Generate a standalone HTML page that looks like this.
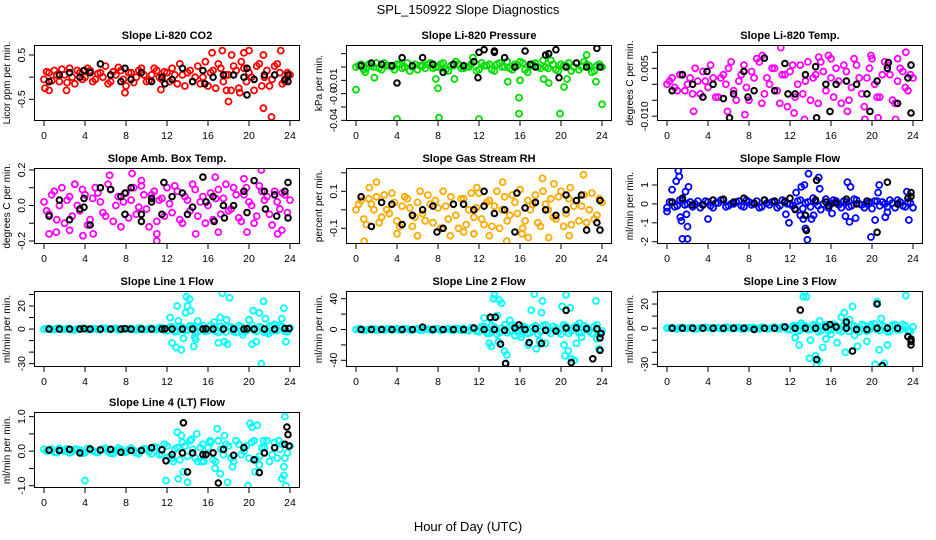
<!DOCTYPE html>
<html><head><meta charset="utf-8">
<style>
html,body{margin:0;padding:0;background:#fff;}
svg{display:block;font-family:"Liberation Sans",sans-serif;}
</style></head>
<body>
<svg id="chart" width="936" height="540" viewBox="0 0 936 540" xmlns="http://www.w3.org/2000/svg">
<text x="468" y="14" text-anchor="middle" font-size="13">SPL_150922  Slope Diagnostics</text>
<text x="468" y="531" text-anchor="middle" font-size="13">Hour of Day (UTC)</text>
</svg>
<script>
const hourTicks = [0,4,8,12,16,20,24];
// Panel 1 CO2
const co2A = [-0.05,0.1,0.15,-0.1,0.05,0.2,-0.15,0.1,0.0,0.15,-0.05,0.1,0.25,-0.1,0.05,0.15,-0.2,0.1,0.0,0.2,-0.1,0.05,0.15,-0.05,0.1,0.2,-0.15,0.05,0.1,-0.1,0.25,0.0,-0.2,0.15,0.3,-0.1,0.05,0.25,-0.25,0.2,0.1,-0.3,0.3,0.0,-0.2,0.25,0.1,-0.1,0.05];
const co2B = [0.12,-0.08,0.05,0.18,-0.12,0.0,0.15,-0.05,0.2,-0.1,0.08,0.0,-0.15,0.12,0.22,-0.05,0.1,-0.12,0.15,0.05,-0.08,0.2,0.0,0.12,-0.1,0.05,0.3,-0.2,0.15,0.0,-0.15,0.35,0.1,-0.25,0.2,0.05,-0.3,0.15,0.35,-0.1,0.0,0.25,-0.2,0.15,-0.05,0.3,-0.15,0.1];
const co2Out = [[17.4,0.6],[18.3,0.5],[18.0,-0.55],[19.5,0.55],[20,0.6],[21.4,-0.7],[22.2,-0.9],[23.1,0.6],[0.1,-0.25],[0.5,-0.3],[2.2,-0.3],[7.9,-0.35],[11.4,-0.28],[16.4,0.55],[21.4,0.5],[17.8,-0.3],[19.1,-0.35]];
const co2K = [-0.1,0.05,0.1,0.0,0.1,0.3,0.05,-0.1,-0.05,0.1,-0.1,0.0,-0.05,0.2,-0.1,0.15,0.0,0.05,0.05,0.0,-0.05,0.05,0.05,-0.05];
const co2KX = [[3.9,0.15],[7.9,0.2],[11.8,-0.15],[15.7,-0.15],[19.8,-0.4],[19.8,0.2],[23.8,0.05],[23.8,-0.1]];
// Panel 2 pressure
const prA = [0.0,0.002,-0.001,0.001,0.003,-0.002,0.001,0.0,0.002,-0.001,0.003,0.0,-0.002,0.001,0.002,-0.001,0.0,0.003,-0.003,0.001,0.002,-0.001,0.0,0.004,-0.002,0.001,0.002,-0.003,0.003,0.0,-0.001,0.002,0.004,-0.002,0.001,0.003,-0.001,0.0,0.005,-0.002,0.002,0.001,-0.003,0.003,0.0,0.002,-0.004,0.001,0.0];
const prB = [0.001,-0.002,0.002,0.0,-0.001,0.003,0.001,-0.002,0.002,0.0,-0.003,0.002,0.001,-0.001,0.003,0.0,0.002,-0.002,0.001,0.004,-0.001,0.0,0.002,-0.003,0.003,0.001,-0.002,0.002,0.0,0.004,-0.002,0.001,0.003,-0.004,0.002,0.0,0.005,-0.001,0.002,-0.003,0.001,0.003,0.0,-0.002,0.004,0.001,-0.003,0.002];
const prOut = [[0,-0.017],[4,-0.039],[8.1,-0.038],[12,-0.039],[15.9,-0.035],[19.9,-0.035],[24,-0.028],[15.9,-0.023],[8,-0.016],[20.3,-0.015],[0.9,-0.004],[1.8,-0.008],[7.8,-0.009],[9.6,-0.009],[14.8,-0.011],[16,-0.010],[18.3,-0.009],[18.8,-0.012],[20.6,-0.009],[22.5,0.009],[11.4,0.007],[23.4,-0.011]];
const prK = [0.001,0.003,0.002,0.001,0.007,0.001,0.007,0.002,-0.004,0.002,0.001,0.004,0.013,0.012,0.007,0.0,0.012,0.0,0.009,0.013,0.0,0.003,0.0,0.014];
const prKX = [[4,-0.012],[11.9,-0.008],[19.8,-0.008],[23.8,0.0],[17,0.002],[12,0.011],[13.5,0.011],[18.8,0.010]];
// Panel 3 Li-820 temp
const tA = [0.0,0.002,-0.002,0.003,0.0,-0.003,0.001,0.004,-0.001,0.002,-0.004,0.003,0.005,-0.002,0.001,0.006,-0.005,0.002,0.007,-0.003,0.0,0.005,-0.006,0.003,0.004,-0.004,0.006,0.001,-0.005,0.003,0.007,-0.002,0.002,0.005,-0.006,0.004,-0.001,0.006,-0.003,0.002,0.008,-0.004,0.003,0.006,-0.005,0.001,0.004,-0.002,0.002];
const tB = [0.001,-0.001,0.003,-0.002,0.002,0.005,-0.003,0.001,0.006,-0.004,0.002,0.0,0.007,-0.005,0.003,-0.001,0.004,0.008,-0.006,0.002,0.005,-0.002,0.003,-0.007,0.006,0.0,-0.003,0.007,0.002,-0.006,0.004,0.009,-0.004,0.001,0.006,-0.005,0.008,0.002,-0.007,0.005,0.0,-0.004,0.007,0.003,-0.006,0.005,-0.001,0.003];
const tOut = [[2.6,-0.0085],[5.9,-0.0085],[7.6,-0.0095],[11.1,0.0115],[12.4,-0.009],[13.4,-0.011],[17.6,-0.0085],[19.3,-0.011],[20.6,-0.0105],[22.3,-0.011],[23.3,0.01],[22.5,0.008],[19.9,0.009],[14.8,0.0085],[9.3,0.009],[16,0.008]];
const tK = [-0.002,0.003,0.0,-0.004,0.0,-0.0045,-0.003,0.004,-0.002,0.0082,-0.002,0.0065,-0.003,0.003,0.0055,0.0,0.0,0.001,0.0,-0.003,0.001,0.005,-0.006,0.002];
const tKX = [[6.1,-0.0105],[14.6,-0.0105],[15.9,-0.0085],[19.8,-0.0085],[11.8,-0.003],[23.8,-0.009],[23.8,0.006],[21.6,0.0068],[3.9,0.004],[7.9,-0.004]];
// Panel 4 amb box temp
const aA = [0.02,-0.05,0.08,0.0,-0.1,0.05,0.12,-0.03,0.06,-0.08,0.1,0.02,-0.06,0.09,0.0,-0.12,0.07,0.03,-0.05,0.11,-0.02,0.06,-0.09,0.04,0.1,-0.04,0.08,-0.1,0.03,0.12,-0.06,0.05,0.0,-0.08,0.09,0.04,-0.03,0.1,-0.07,0.06,0.02,-0.1,0.11,0.03,-0.05,0.08,-0.02,0.06,0.03];
const aB = [-0.03,0.06,-0.08,0.1,0.03,-0.06,0.0,0.09,-0.11,0.04,0.07,-0.04,0.12,-0.09,0.05,0.02,-0.07,0.1,-0.01,0.06,-0.12,0.08,0.03,-0.06,0.01,0.11,-0.08,0.05,-0.03,0.09,0.02,-0.1,0.07,0.04,-0.05,0.12,-0.02,0.06,-0.09,0.1,0.0,-0.06,0.08,0.05,-0.11,0.02,0.07,-0.04];
const aOut = [[0.5,-0.16],[1.2,-0.15],[2.5,-0.14],[3.8,-0.17],[4.8,-0.16],[6.4,0.17],[8.6,0.18],[11,-0.2],[11,-0.16],[14.8,-0.16],[16.7,0.16],[17,-0.15],[19.5,0.15],[21.2,0.2],[22.8,-0.16],[3,0.12],[9.5,0.14],[19.8,-0.15],[23.2,-0.14]];
const aK = [-0.06,0.03,-0.08,-0.02,-0.11,0.1,0.09,0.05,0.1,-0.05,0.02,-0.05,0.05,0.07,-0.01,0.16,0.05,0.0,0.0,0.08,0.14,0.08,0.06,0.08];
const aKX = [[3.9,-0.01],[3.9,0.04],[7.9,0.07],[7.9,-0.05],[9.5,-0.09],[10.5,0.04],[11.7,0.13],[14,-0.05],[15.8,0.02],[16.6,-0.09],[17.6,-0.07],[19.8,-0.04],[21.6,-0.02],[22.7,-0.06],[23.8,-0.07],[23.8,0.13]];
// Panel 5 RH
const rA = [0.0,0.05,-0.08,0.03,0.07,-0.04,0.0,0.09,-0.06,0.02,0.06,-0.09,0.04,-0.02,0.08,-0.07,0.01,0.1,-0.05,0.03,-0.1,0.06,0.0,-0.04,0.09,-0.08,0.05,0.02,-0.1,0.07,-0.03,0.04,0.11,-0.06,0.0,0.08,-0.09,0.03,0.06,-0.05,0.1,-0.02,-0.08,0.05,0.02,-0.07,0.09,-0.03,0.04];
const rB = [0.03,-0.05,0.06,0.0,-0.07,0.08,-0.02,0.04,-0.09,0.07,0.01,-0.04,0.1,-0.06,0.03,0.05,-0.1,0.02,0.07,-0.03,0.06,-0.08,0.09,0.01,-0.05,0.04,-0.09,0.1,0.0,-0.06,0.08,-0.02,-0.1,0.05,0.03,-0.07,0.1,0.0,-0.04,0.07,-0.09,0.06,0.02,-0.06,0.08,0.0,-0.05,0.06];
const rOut = [[0.8,-0.17],[2,0.15],[4,-0.13],[6,-0.14],[9.2,-0.14],[10.5,-0.12],[11.5,-0.13],[13,-0.14],[14.3,0.15],[14.7,-0.17],[16.2,-0.13],[16.8,-0.15],[17.9,0.24],[18.2,0.17],[18.8,-0.15],[20.8,-0.14],[22.2,0.19],[1.3,0.12],[11.8,0.12],[19.3,0.14],[20.9,0.12]];
const rK = [0.07,-0.09,0.04,0.03,-0.08,-0.03,0.0,0.02,-0.1,0.03,0.03,0.0,0.02,-0.02,0.0,-0.12,0.01,0.04,0.0,-0.03,0.0,0.05,-0.11,-0.07];
const rKX = [[12.5,0.1],[15.7,0.09],[20.5,0.08],[23.8,0.05],[23.8,-0.11],[22,0.08],[7.9,-0.12]];
// Panel 6 sample flow
const sA = [-0.2,0.1,-0.1,0.2,0.0,-0.15,0.15,-0.05,0.1,-0.2,0.05,0.2,-0.1,0.0,0.15,-0.15,0.1,0.0,-0.2,0.2,-0.05,0.1,-0.1,0.15,0.0,-0.25,0.2,0.05,-0.15,0.1,-0.3,0.25,0.0,0.15,-0.2,0.1,-0.1,0.2,-0.05,0.0,-0.25,0.15,0.1,-0.15,0.05,0.2,-0.1,0.1,-0.2];
const sB = [0.1,-0.15,0.2,-0.05,0.1,0.0,-0.2,0.15,-0.1,0.05,0.2,-0.15,0.0,0.1,-0.1,0.2,-0.05,0.15,-0.15,0.05,0.1,-0.2,0.2,0.0,-0.1,0.15,-0.25,0.1,0.3,-0.1,0.0,-0.2,0.2,-0.05,0.15,-0.15,0.25,0.0,-0.2,0.1,0.15,-0.1,0.0,0.2,-0.2,0.1,-0.15,0.05];
const sOut = [[0,-0.4],[0.5,0.75],[0.9,1.2],[1.1,1.75],[1.2,1.45],[1.3,-0.7],[1.4,-0.9],[1.5,-1.85],[1.8,0.65],[1.9,-0.55],[2.0,-1.2],[2.0,-1.85],[2.1,0.9],[4.0,-0.8],[11.9,-1.0],[11.6,-0.55],[12.6,0.6],[13.1,0.9],[13.3,-0.8],[13.4,1.0],[13.5,-1.3],[13.7,-1.9],[13.8,1.6],[14.1,-0.8],[14.8,1.4],[14.9,0.8],[16.1,-0.5],[17.4,-0.65],[17.6,1.15],[17.8,-0.95],[17.9,0.9],[18.4,-0.75],[19.9,-1.75],[20.3,-0.85],[20.6,0.6],[20.7,1.0],[21.3,-0.7],[21.5,-0.45],[23.6,-0.85],[23.4,0.65],[13,-0.6],[14.3,-0.6]];
const sK = [0.1,0.3,-0.05,-0.05,0.2,0.25,0.1,0.3,0.05,0.2,0.15,0.1,-0.3,-0.6,0.2,0.1,0.05,0.25,0.0,0.15,-1.5,1.15,0.0,0.3];
const sKX = [[13.6,-1.4],[14.6,1.25],[23.8,0.6],[23.8,0.4],[12,0.3],[15.8,-0.1]];
// Panel 7 line 1
const l1A = [0,0.5,-0.5,0.8,-0.3,0.4,-0.8,0.2,0.6,-0.4,0.3,-0.6,0.5,-0.2,0.7,-0.5,0.1,0.4,-0.7,0.6,-0.3,0.8,-0.5,1.0,-1.5,2,-2,1.5,-1,2.5,-2.5,3,-1.5,2,-3,1,2.5,-2,3,-2.5,1.5,-1,2,-3,2.5,-1.5,3,-2,1];
const l1B = [0.3,-0.4,0.6,-0.2,0.5,-0.6,0.2,0.7,-0.3,0.4,-0.5,0.8,-0.1,0.3,-0.7,0.5,0.2,-0.4,0.9,-0.6,0.4,-0.2,1.2,-1,1.8,-2.5,2.2,-1.2,2.8,-3,1.5,-2,3.2,-1.8,2.5,-2.5,1.8,-3,2.2,-1.5,3.5,-2,1.2,-2.8,3,-1.2,2,-2.5];
const l1Out = [[12.3,10],[12.5,-12],[12.9,-16],[13,20],[13.1,7],[13.4,-18],[13.6,-8],[13.8,14],[13.9,28],[14,20],[14.2,26],[14.3,16],[14.6,-15],[14.7,-7],[14.8,-9],[15,7],[17,-12],[17.2,10],[17.4,31],[17.6,-11],[17.8,8],[17.9,-13],[18.1,27],[19.4,-5],[20,8],[20.3,-13],[20.4,16],[20.7,-11],[21,14],[21.2,-30],[21.4,24],[21.6,9],[21.9,-4],[22.5,4],[23.2,9],[23.4,18],[23.6,-11],[16.6,6]];
const l1K = [0,0,0,0,0,0,0,0,0,0,0,0,0,0,0,0,0,0,0,0,0,0,0,0.5];
const l1KX = [[3.9,0.3],[7.9,0.3],[11.8,0.2],[15.8,0.2],[19.8,0.3],[23.9,0.4]];
// Panel 8 line 2
const l2A = [0,0.8,-0.6,0.5,-0.9,0.4,0.7,-0.5,0.9,-0.3,0.6,-0.8,1,-0.6,0.4,-1,0.8,-0.4,1.2,-0.9,0.5,1.5,-1.5,2,-3,4,-5,3,-4,6,-2,5,-6,3,-4,5,-3,6,-5,2,-6,4,-2,5,-4,3,-5,6,-2];
const l2B = [0.5,-0.7,0.3,0.9,-0.4,-0.8,0.6,0.2,-0.7,1,-0.5,0.3,-0.9,0.7,-0.2,0.9,-1.1,0.5,-0.6,1.3,-0.8,-1.2,2.5,-2,4,-3,5,-6,2,-4,6,-3,4,-5,3,-6,5,-2,4,-3,6,-5,3,-4,5,-2,4,-6];
const l2Out = [[12.5,15],[12.8,-5],[13,-18],[13.2,-22],[13.4,40],[13.5,45],[13.8,18],[13.9,-16],[14,38],[14.2,34],[14.5,-28],[14.7,-33],[14.6,-45],[15,12],[15.5,-8],[16.1,-10],[16.8,-20],[17.1,25],[17.4,46],[17.6,-25],[17.9,-15],[18.1,22],[18.2,37],[18.5,-18],[20.1,30],[20.3,-20],[20.4,-34],[20.5,45],[20.7,-28],[20.9,28],[21,-38],[21.3,-40],[21.5,-18],[21.8,8],[22,-10],[23.4,37],[23.5,-12],[23.7,-25],[13.1,14]];
const l2K = [0,0,0,0,0,0,3,0,0,0,0,2,0,0,-1,2,0,1,-1,-2,2,2,1,1];
const l2KX = [[13.1,16],[13.6,16],[14.1,-19],[14.6,-44],[16.9,-17],[18.1,-18],[20.5,25],[21,-43],[23.1,-38],[23.8,-11],[23.8,-27],[23.9,-5],[15.9,6]];
// Panel 9 line 3
const l3A = [0,0.4,-0.5,0.6,-0.3,0.5,-0.6,0.3,0.5,-0.4,0.2,-0.6,0.4,-0.3,0.6,-0.5,0.2,0.3,-0.6,0.5,-0.4,0.7,-0.5,0.8,-1.5,2,-1.8,1.5,-1,2.5,-2.2,3,-1.5,2,-2.8,1,2.5,-2,3,-2.5,1.5,-1,2,-3,2.5,-1.5,3,-2,1];
const l3B = [0.2,-0.3,0.5,-0.2,0.4,-0.5,0.2,0.6,-0.3,0.3,-0.4,0.7,-0.1,0.3,-0.6,0.4,0.2,-0.3,0.8,-0.5,0.4,-0.2,1,-1,1.8,-2.5,2.2,-1.2,2.8,-3,1.5,-2,3.2,-1.8,2.5,-2.5,1.8,-3,2.2,-1.5,3.5,-2,1.2,-2.8,3,-1.2,2,-2.5];
const l3Out = [[12.5,-8],[12.9,-14],[13.1,4],[13.3,26],[13.4,30],[13.6,26],[13.9,-25],[14,-10],[14.5,-23],[14.6,-30],[14.8,-27],[14.9,6],[15.2,-16],[15.5,-9],[16.6,-12],[17,9],[17.3,13],[17.4,-20],[17.8,7],[18.1,18],[18.3,-6],[18.6,-15],[19.5,-11],[19.9,3],[20.3,-30],[20.5,22],[20.7,-18],[20.9,8],[21.2,-29],[21.5,-14],[22,2],[23.3,27],[23.6,-3],[16,-5]];
const l3K = [0,0,0,0,0,0,0,0,-1,0,0,1,0,0,0,1,1,0,-1,-1,0,0,0,-7];
const l3KX = [[13,15],[14.6,-26],[18.1,-19],[20.5,20],[21,-31],[23.2,-39],[23.8,-11],[23.8,-14],[23.8,-9],[23.7,-35],[15.9,3],[17.5,5]];
// Panel 10 line 4
const l4A = [0.05,0.02,-0.03,0.08,0.0,-0.05,0.06,0.03,-0.04,0.07,-0.02,0.04,0.08,-0.06,0.02,0.05,-0.03,0.09,-0.05,0.03,0.06,-0.08,0.1,-0.1,0.15,-0.2,0.1,0.25,-0.15,0.05,-0.3,0.2,0.1,-0.25,0.3,-0.1,0.15,-0.3,0.2,0.0,-0.2,0.3,-0.15,0.1,-0.3,0.25,0.05,-0.2,0.15];
const l4B = [0.0,0.06,-0.04,0.03,0.07,-0.02,0.05,-0.06,0.08,0.01,-0.04,0.06,0.0,-0.07,0.09,-0.03,0.05,0.02,-0.08,0.07,-0.02,0.12,-0.1,0.2,-0.15,0.05,-0.25,0.15,0.3,-0.2,0.1,-0.1,0.25,-0.3,0.05,0.2,-0.2,0.3,-0.1,0.15,0.25,-0.25,0.1,0.3,-0.1,-0.2,0.2,-0.05];
const l4Out = [[4,-0.85],[11.9,-0.85],[12.6,-0.3],[13,0.55],[13.1,-0.8],[13.4,0.45],[13.6,-0.6],[14,-0.9],[14.4,0.35],[14.9,0.5],[15.4,-0.3],[16.2,0.3],[16.7,-0.5],[16.9,0.65],[17.2,-0.65],[17.6,0.45],[17.9,-0.9],[18.4,-0.45],[19.9,-1.0],[20.1,0.8],[20.3,0.7],[20.8,0.75],[21,-0.4],[21.4,0.3],[22.9,0.3],[23.2,-0.8],[23.4,-0.7],[23.5,1.0],[23.6,-1.0],[23.4,-0.45],[15.6,-0.3],[20.6,-0.6]];
const l4K = [0.03,0.02,0.05,-0.05,0.06,0.03,0.05,-0.03,0.02,0.02,0.1,0.04,-0.1,-0.05,-0.05,-0.1,-0.05,0.05,-0.12,0.1,-0.25,-0.05,0.1,0.2];
const l4KX = [[13.6,0.82],[11.9,-0.28],[14,-0.6],[17,-0.92],[21,-0.62],[23.7,0.7],[23.8,0.48],[23.9,0.15],[15.8,-0.1]];

const panels = [
 {id:'co2',title:'Slope Li-820 CO2',ylab:'Licor ppm per min.',col:0,row:0,ymin:-0.99,ymax:0.726,ticks:[-0.5,0,0.5],labels:[[-0.5,'-0.5'],[0.5,'0.5']],color:'#ff0000',A:co2A,B:co2B,O:co2Out,K:co2K,KX:co2KX},
 {id:'pressure',title:'Slope Li-820 Pressure',ylab:'kPa per min.',col:1,row:0,ymin:-0.0405,ymax:0.0165,ticks:[-0.04,-0.03,-0.02,-0.01,0,0.01],labels:[[-0.04,'-0.04'],[-0.022,'-0.0'],[-0.01,'-0.01']],color:'#00dd00',A:prA,B:prB,O:prOut,K:prK,KX:prKX},
 {id:'li820-temp',title:'Slope Li-820 Temp.',ylab:'degrees C per min.',col:2,row:0,ymin:-0.0115,ymax:0.0123,ticks:[-0.01,-0.005,0,0.005,0.01],labels:[[-0.01,'-0.010'],[0.005,'0.005']],color:'#ff00ff',A:tA,B:tB,O:tOut,K:tK,KX:tKX},
 {id:'amb-box-temp',title:'Slope Amb. Box Temp.',ylab:'degrees C per min.',col:0,row:1,ymin:-0.217,ymax:0.211,ticks:[-0.2,-0.1,0,0.1,0.2],labels:[[-0.2,'-0.2'],[0,'0.0'],[0.2,'0.2']],color:'#ff00ff',A:aA,B:aB,O:aOut,K:aK,KX:aKX},
 {id:'gas-stream-rh',title:'Slope Gas Stream RH',ylab:'percent per min.',col:1,row:1,ymin:-0.185,ymax:0.226,ticks:[-0.1,0,0.1,0.2],labels:[[-0.1,'-0.1'],[0.1,'0.1']],color:'#ffaa00',A:rA,B:rB,O:rOut,K:rK,KX:rKX},
 {id:'sample-flow',title:'Slope Sample Flow',ylab:'ml/min per min.',col:2,row:1,ymin:-2.12,ymax:1.9,ticks:[-2,-1,0,1],labels:[[-2,'-2'],[-1,'-1'],[0,'0'],[1,'1']],color:'#0000ff',A:sA,B:sB,O:sOut,K:sK,KX:sKX},
 {id:'line1-flow',title:'Slope Line 1 Flow',ylab:'ml/min per min.',col:0,row:2,ymin:-32.9,ymax:33,ticks:[-30,-20,-10,0,10,20,30],labels:[[-30,'-30'],[0,'0'],[20,'20']],color:'#00ffff',A:l1A,B:l1B,O:l1Out,K:l1K,KX:l1KX},
 {id:'line2-flow',title:'Slope Line 2 Flow',ylab:'ml/min per min.',col:1,row:2,ymin:-48.7,ymax:50,ticks:[-40,-20,0,20,40],labels:[[-40,'-40'],[0,'0'],[40,'40']],color:'#00ffff',A:l2A,B:l2B,O:l2Out,K:l2K,KX:l2KX},
 {id:'line3-flow',title:'Slope Line 3 Flow',ylab:'ml/min per min.',col:2,row:2,ymin:-32.2,ymax:30.8,ticks:[-30,-20,-10,0,10,20,30],labels:[[-30,'-30'],[0,'0'],[20,'20']],color:'#00ffff',A:l3A,B:l3B,O:l3Out,K:l3K,KX:l3KX},
 {id:'line4-lt-flow',title:'Slope Line 4 (LT) Flow',ylab:'ml/min per min.',col:0,row:3,ymin:-1.066,ymax:1.134,ticks:[-1,-0.5,0,0.5,1],labels:[[-1,'-1.0'],[0,'0.0'],[1,'1.0']],color:'#00ffff',A:l4A,B:l4B,O:l4Out,K:l4K,KX:l4KX}
];
const colLeft=[34,346,657], rowTop=[45,168,291,412], boxW=266, boxH=76;
const NS='http://www.w3.org/2000/svg';
const svg=document.getElementById('chart');
function mk(tag,attrs,parent){const e=document.createElementNS(NS,tag);for(const k in attrs)e.setAttribute(k,attrs[k]);(parent||svg).appendChild(e);return e;}

panels.forEach(p=>{
  const L=colLeft[p.col], T=rowTop[p.row], B=T+boxH;
  const g=mk('g',{});
  
  
  const xs=h=>L+10+h*(246/24);
  const ys=v=>T+(p.ymax-v)/(p.ymax-p.ymin)*boxH;
  const clip=mk('clipPath',{id:'clip-'+p.id},g);
  mk('rect',{x:L,y:T,width:boxW,height:boxH},clip);
  const pts=mk('g',{'clip-path':'url(#clip-'+p.id+')'},g);
  
  
  const dot=(h,v,c)=>{const black=(c==='#000');
    const c0=mk('circle',{cx:xs(h).toFixed(1),cy:ys(v).toFixed(1),r:black?2.8:3,fill:'none',stroke:c,'stroke-width':black?2:1.8},pts);
    
    };
  p.A.forEach((v,i)=>dot(i*0.5,v,p.color));
  p.B.forEach((v,i)=>dot(i*0.5+0.25,v,p.color));
  p.O.forEach(d=>dot(d[0],d[1],p.color));
  p.K.forEach((v,i)=>dot(i+0.5,v,'#000'));
  p.KX.forEach(d=>dot(d[0],d[1],'#000'));
  const box=mk('rect',{x:L+0.5,y:T+0.5,width:boxW-1,height:boxH-1,fill:'none',stroke:'#000','stroke-width':1},g);
  
  
  const t=mk('text',{x:L+boxW/2,y:T-6,'text-anchor':'middle','font-size':11,'font-weight':'bold'},g);
  t.textContent=p.title;
  
  
  hourTicks.forEach(h=>{
    mk('line',{x1:xs(h),x2:xs(h),y1:B,y2:B+5,stroke:'#000'},g);
    const tl=mk('text',{x:xs(h),y:B+18,'text-anchor':'middle','font-size':10.5},g);
    tl.textContent=h;
    
    
  });
  p.ticks.forEach(v=>{ mk('line',{x1:L-5,x2:L,y1:ys(v),y2:ys(v),stroke:'#000'},g); });
  p.labels.forEach(lb=>{
    const yy=ys(lb[0]);
    const tl=mk('text',{x:L-9,y:yy,'text-anchor':'middle','font-size':10.5,transform:'rotate(-90 '+(L-9)+' '+yy+')'},g);
    tl.textContent=lb[1];
    
    
  });
  const yc=T+boxH/2;
  const yl=mk('text',{x:L-24,y:yc,'text-anchor':'middle','font-size':10,transform:'rotate(-90 '+(L-24)+' '+yc+')'},g);
  yl.textContent=p.ylab;
  
  
});
</script>
</body></html>
